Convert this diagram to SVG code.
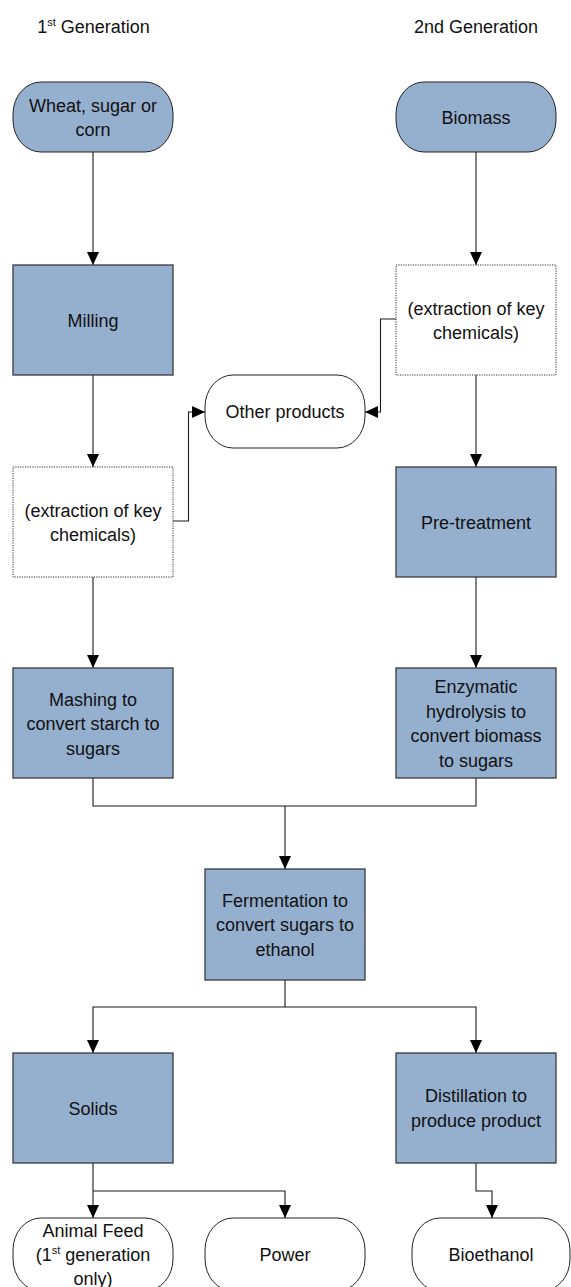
<svg xmlns="http://www.w3.org/2000/svg" width="571" height="1287" viewBox="0 0 571 1287">
<style>
text{font-family:"Liberation Sans",Arial,sans-serif;font-size:18px;fill:#111;text-anchor:middle}
.proc{fill:#95AFCF;stroke:#3a3a3a;stroke-width:1.3}
.dot{fill:#fff;stroke:#333;stroke-width:1;stroke-dasharray:1.2 1.2}
.term{stroke:#222;stroke-width:1}
.blue{fill:#95AFCF}
.white{fill:#fff}
.sup{font-size:11px}
#connectors path{fill:none;stroke:#1a1a1a;stroke-width:1.1}
</style>
<defs>
<marker id="arr" markerWidth="13" markerHeight="12" refX="13" refY="6" orient="auto" markerUnits="userSpaceOnUse"><path d="M0,0 L13,6 L0,12 z" fill="#000"/></marker>
</defs>
<rect width="571" height="1287" fill="#fff"/>
<g id="titles">
<text x="93.5" y="33">1<tspan class="sup" dy="-7">st</tspan><tspan dy="7"> Generation</tspan></text>
<text x="476" y="33">2nd Generation</text>
</g>
<g id="connectors">
<path d="M93,152 V265" marker-end="url(#arr)"/>
<path d="M476,152 V265" marker-end="url(#arr)"/>
<path d="M93,375 V467" marker-end="url(#arr)"/>
<path d="M476,375 V467" marker-end="url(#arr)"/>
<path d="M396,319 H380.5 V412 H365" marker-end="url(#arr)"/>
<path d="M173,521 H188.5 V412 H205" marker-end="url(#arr)"/>
<path d="M93,577 V668" marker-end="url(#arr)"/>
<path d="M476,577 V668" marker-end="url(#arr)"/>
<path d="M93,778 V806 H476 V778"/>
<path d="M285,806 V869" marker-end="url(#arr)"/>
<path d="M285,980 V1007"/>
<path d="M285,1007 H93 V1053" marker-end="url(#arr)"/>
<path d="M285,1007 H476 V1053" marker-end="url(#arr)"/>
<path d="M93,1163 V1218" marker-end="url(#arr)"/>
<path d="M93,1191 H285 V1218" marker-end="url(#arr)"/>
<path d="M476,1163 V1191 H492 V1218" marker-end="url(#arr)"/>
</g>
<g id="wheat">
<rect class="term blue" x="13" y="82" width="160" height="70" rx="28" ry="32"/>
<text x="93" y="111.5">Wheat, sugar or</text>
<text x="93" y="135.5">corn</text>
</g>
<g id="biomass">
<rect class="term blue" x="396" y="82" width="160" height="70" rx="28" ry="32"/>
<text x="476" y="123.5">Biomass</text>
</g>
<g id="milling">
<rect class="proc" x="13" y="265" width="160" height="110"/>
<text x="93" y="326.5">Milling</text>
</g>
<g id="extract2">
<rect class="dot" x="396" y="265" width="160" height="110"/>
<text x="476" y="314.5">(extraction of key</text>
<text x="476" y="338.5">chemicals)</text>
</g>
<g id="other">
<rect class="term white" x="205" y="375" width="160" height="73" rx="28" ry="32"/>
<text x="285" y="418">Other products</text>
</g>
<g id="extract1">
<rect class="dot" x="13" y="467" width="160" height="110"/>
<text x="93" y="516.5">(extraction of key</text>
<text x="93" y="540.5">chemicals)</text>
</g>
<g id="pretreat">
<rect class="proc" x="396" y="467" width="160" height="110"/>
<text x="476" y="528.5">Pre-treatment</text>
</g>
<g id="mashing">
<rect class="proc" x="13" y="668" width="160" height="110"/>
<text x="93" y="705.5">Mashing to</text>
<text x="93" y="730">convert starch to</text>
<text x="93" y="754.5">sugars</text>
</g>
<g id="enzymatic">
<rect class="proc" x="396" y="668" width="160" height="110"/>
<text x="476" y="693">Enzymatic</text>
<text x="476" y="717.5">hydrolysis to</text>
<text x="476" y="742">convert biomass</text>
<text x="476" y="766.5">to sugars</text>
</g>
<g id="fermentation">
<rect class="proc" x="205" y="869" width="160" height="111"/>
<text x="285" y="906.5">Fermentation to</text>
<text x="285" y="931">convert sugars to</text>
<text x="285" y="955.5">ethanol</text>
</g>
<g id="solids">
<rect class="proc" x="13" y="1053" width="160" height="110"/>
<text x="93" y="1114.5">Solids</text>
</g>
<g id="distillation">
<rect class="proc" x="396" y="1053" width="160" height="110"/>
<text x="476" y="1102">Distillation to</text>
<text x="476" y="1126.5">produce product</text>
</g>
<g id="feed">
<rect class="term white" x="13" y="1218" width="160" height="73" rx="28" ry="32"/>
<text x="93" y="1236.5">Animal Feed</text>
<text x="93" y="1261">(1<tspan class="sup" dy="-7">st</tspan><tspan dy="7"> generation</tspan></text>
<text x="93" y="1285">only)</text>
</g>
<g id="power">
<rect class="term white" x="205" y="1218" width="160" height="73" rx="28" ry="32"/>
<text x="285" y="1260.5">Power</text>
</g>
<g id="bioethanol">
<rect class="term white" x="412" y="1218" width="158" height="73" rx="28" ry="32"/>
<text x="491" y="1260.5">Bioethanol</text>
</g>
</svg>
